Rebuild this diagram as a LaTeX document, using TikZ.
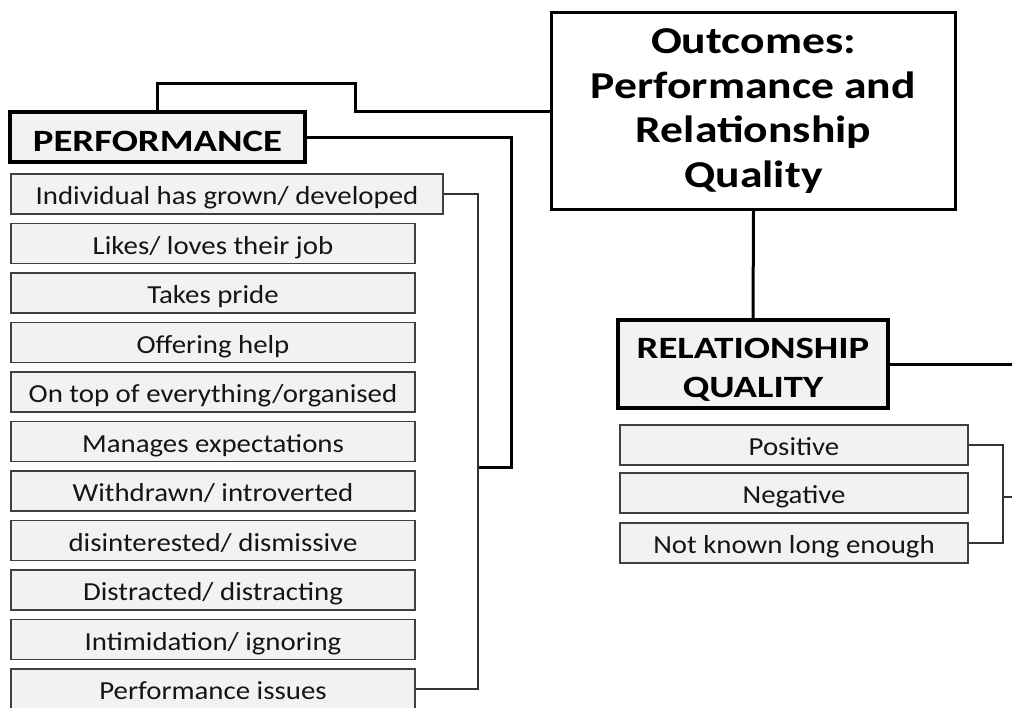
\documentclass[tikz,border=0pt]{standalone}
\usepackage{fontspec}
\setmainfont{Carlito}
\newfontfamily\itemfont{Carlito}[FakeStretch=1.11]
\newfontfamily\headfont{Carlito}[FakeStretch=1.25]
\newfontfamily\outfont{Carlito}[FakeStretch=1.2]
\definecolor{boxgray}{HTML}{F2F2F2}
\definecolor{txt}{HTML}{151515}
\begin{document}
\begin{tikzpicture}[x=1pt,y=-1pt,
  itembox/.style={draw=black!75, line width=1.4pt, fill=boxgray, minimum height=40pt,
    inner sep=0pt, text height=21pt, text depth=0pt, text=txt,
    font=\itemfont\fontsize{26}{30}\selectfont},
  headbox/.style={draw=black, line width=3.4pt, fill=boxgray, inner sep=0pt,
    text=black, align=center, font=\headfont\bfseries\fontsize{31}{39}\selectfont},
  thickline/.style={draw=black, line width=3pt},
  thinline/.style={draw=black!80, line width=1.4pt}]
\useasboundingbox (0,0) rectangle (1012,707);

\node[headbox, fill=white, minimum width=404pt, minimum height=197pt,
  font=\outfont\bfseries\fontsize{38}{44.5}\selectfont] (out) at (753.5,111)
  {Outcomes:\\Performance and\\Relationship\\Quality};
\node[headbox, minimum width=295pt, minimum height=50pt] (perf) at (157.5,137)
  {\smash{\raisebox{-14pt}{PERFORMANCE}}};
\node[headbox, minimum width=270pt, minimum height=88pt] (rq) at (753,364)
  {\smash{\raisebox{6pt}{\begin{tabular}[t]{@{}c@{}}RELATIONSHIP\\QUALITY\end{tabular}}}};

\node[itembox, minimum width=432pt] (i1) at (227,194) {Individual has grown/ developed};
\node[itembox, minimum width=404pt] (i2) at (213,243.5) {Likes/ loves their job};
\node[itembox, minimum width=404pt] (i3) at (213,293) {Takes pride};
\node[itembox, minimum width=404pt] (i4) at (213,342.5) {Offering help};
\node[itembox, minimum width=404pt] (i5) at (213,392) {On top of everything/organised};
\node[itembox, minimum width=404pt] (i6) at (213,441.5) {Manages expectations};
\node[itembox, minimum width=404pt] (i7) at (213,491) {Withdrawn/ introverted};
\node[itembox, minimum width=404pt] (i8) at (213,540.5) {disinterested/ dismissive};
\node[itembox, minimum width=404pt] (i9) at (213,590) {Distracted/ distracting};
\node[itembox, minimum width=404pt] (i10) at (213,639.5) {Intimidation/ ignoring};
\node[itembox, minimum width=404pt] (i11) at (213,689) {Performance issues};

\node[itembox, minimum width=348pt] (r1) at (794,445) {Positive};
\node[itembox, minimum width=348pt] (r2) at (794,493) {Negative};
\node[itembox, minimum width=348pt] (r3) at (794,543) {Not known long enough};

\coordinate (j1) at (355,83);
\coordinate (j2) at (511,467);
\coordinate (b1) at (478,467);
\coordinate (e1) at (1012,364);
\coordinate (b2) at (1003,497);
\coordinate (e2) at (1012,497);

\draw[thickline] (out.west) -| (j1) -| (perf.north);
\draw[thickline] (perf.east) -| (j2) -- (b1);
\draw[thinline] (i1.east) -| (b1) |- (i11.east);
\draw[thickline] (out.south) -- (rq.north);
\draw[thickline] (rq.east) -- (e1);
\draw[thinline] (r1.east) -| (b2) |- (r3.east);
\draw[thinline] (b2) -- (e2);
\end{tikzpicture}
\end{document}
